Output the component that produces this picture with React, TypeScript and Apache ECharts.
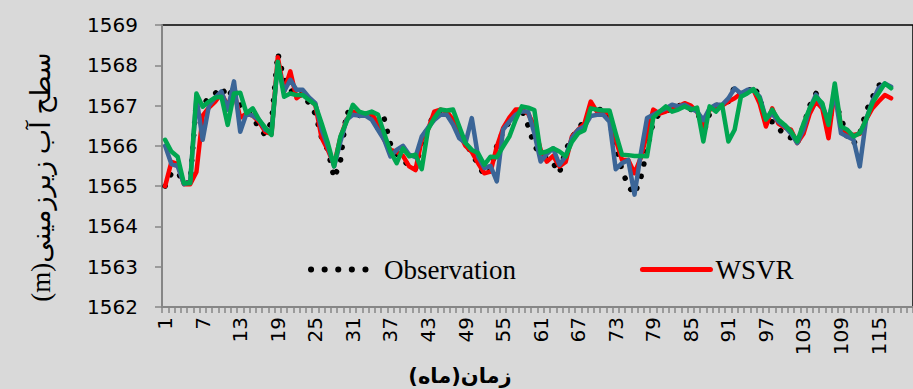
import React, { useEffect, useRef } from 'react';
import * as echarts from 'echarts';

const months: string[] = Array.from({ length: 120 }, (_, i) => String(i + 1));

const observation = [
  1565.0, 1565.32, 1565.36, 1565.05, 1565.1, 1567.15, 1567.0, 1567.2, 1567.3, 1567.45,
  1567.2, 1567.45, 1567.0, 1566.85, 1566.75, 1566.42, 1566.28, 1566.6, 1568.3, 1567.65,
  1567.4, 1567.2, 1567.3, 1567.05, 1566.8, 1566.2, 1565.9, 1565.2, 1565.6, 1566.85,
  1566.75, 1566.75, 1566.8, 1566.7, 1566.44, 1566.68, 1566.05, 1565.8, 1565.65, 1565.5,
  1565.42, 1566.1, 1566.45, 1566.8, 1566.85, 1566.8, 1566.6, 1566.45, 1566.1, 1565.8,
  1565.55, 1565.26, 1565.4, 1566.0, 1566.35, 1566.6, 1566.85, 1566.9, 1566.5, 1566.0,
  1565.8, 1565.7, 1565.57, 1565.32, 1565.9, 1566.2, 1566.45, 1566.6, 1566.8, 1566.9,
  1566.9, 1566.6, 1566.0, 1565.4, 1565.0, 1564.8, 1565.2, 1565.9, 1566.6, 1566.8,
  1566.85, 1566.95, 1567.0, 1567.0, 1566.9, 1566.9, 1566.3, 1566.8, 1567.0, 1567.05,
  1567.1, 1567.47, 1567.25, 1567.3, 1567.5, 1567.2, 1566.6, 1566.6, 1566.45, 1566.25,
  1566.2, 1566.05, 1566.5, 1567.0, 1567.3, 1567.0, 1566.6, 1567.1, 1566.7, 1566.2,
  1566.05, 1566.3, 1566.85, 1567.2, 1567.5, 1567.55, 1567.5,
];

const wsvr = [
  1565.0, 1565.6, 1565.55, 1565.05, 1565.05, 1565.35, 1566.75, 1566.95, 1567.1, 1567.3,
  1567.0, 1567.35, 1566.7, 1566.8, 1566.75, 1566.6, 1566.35, 1566.3, 1568.2, 1567.35,
  1567.85, 1567.18, 1567.3, 1567.15, 1567.02, 1566.2, 1565.9, 1565.53, 1566.2, 1566.65,
  1566.85, 1566.8, 1566.8, 1566.8, 1566.55, 1566.15, 1565.9, 1565.85, 1565.75, 1565.49,
  1565.4, 1566.15, 1566.4, 1566.85, 1566.9, 1566.85, 1566.65, 1566.3, 1566.0, 1565.85,
  1565.57, 1565.32, 1565.36, 1565.98, 1566.44, 1566.7, 1566.9, 1566.9, 1566.8, 1566.5,
  1565.9, 1565.61, 1565.75, 1565.49, 1565.6, 1566.23, 1566.4, 1566.55, 1567.1, 1566.85,
  1566.85, 1566.8, 1566.15, 1565.65, 1565.65, 1565.32, 1565.7, 1566.3, 1566.9, 1566.8,
  1566.85, 1566.93, 1566.98, 1567.06, 1567.0, 1566.85, 1566.48, 1566.9, 1566.95, 1567.0,
  1567.1, 1567.18, 1567.3, 1567.35, 1567.39, 1567.05, 1566.48, 1566.93, 1566.55, 1566.45,
  1566.4, 1566.07, 1566.3, 1566.8, 1567.1, 1566.93, 1566.19, 1567.39, 1566.48, 1566.3,
  1566.27, 1566.3, 1566.65, 1566.93, 1567.1, 1567.26, 1567.18,
];

const modelBlue = [
  1566.0, 1565.55, 1565.5, 1565.05, 1565.1, 1567.2, 1566.15, 1567.0, 1567.2, 1567.35,
  1566.9, 1567.6, 1566.35, 1566.8, 1566.75, 1566.65, 1566.4, 1566.35, 1568.05, 1567.35,
  1567.64, 1567.39, 1567.39, 1567.2, 1567.06, 1566.4, 1565.98, 1565.49, 1566.1, 1566.65,
  1566.77, 1566.75, 1566.75, 1566.65, 1566.4, 1566.15, 1565.74, 1565.9, 1566.0, 1565.78,
  1565.72, 1566.23, 1566.45, 1566.64, 1566.77, 1566.77, 1566.53, 1566.19, 1566.07, 1566.69,
  1565.74, 1565.45, 1565.5, 1565.12, 1566.4, 1566.6, 1566.77, 1566.85, 1566.85, 1566.31,
  1565.61, 1565.8, 1565.94, 1565.53, 1565.74, 1566.19, 1566.4, 1566.48, 1566.74, 1566.77,
  1566.77, 1566.6, 1565.42, 1565.57, 1565.65, 1564.79, 1565.8, 1566.69, 1566.77, 1566.85,
  1566.93, 1567.02, 1566.98, 1567.02, 1566.93, 1566.85, 1566.64, 1566.93, 1567.02, 1567.02,
  1567.18, 1567.43, 1567.3, 1567.39, 1567.39, 1567.22, 1566.68, 1566.8, 1566.6, 1566.48,
  1566.31, 1566.07, 1566.4, 1566.93, 1567.27, 1566.98, 1566.64, 1567.31, 1566.31, 1566.23,
  1566.15, 1565.49, 1566.65, 1567.1, 1567.43, 1567.55, 1567.47,
];

const modelGreen = [
  1566.15, 1565.86, 1565.73, 1565.07, 1565.07, 1567.3, 1566.97, 1567.1, 1567.2, 1567.22,
  1566.52, 1567.3, 1567.32, 1566.81, 1566.93, 1566.65, 1566.45, 1566.27, 1568.09, 1567.22,
  1567.3, 1567.26, 1567.26, 1567.14, 1567.02, 1566.56, 1566.07, 1565.49, 1566.23, 1566.6,
  1567.02, 1566.85, 1566.8, 1566.85, 1566.78, 1566.31, 1565.86, 1565.57, 1565.94, 1565.74,
  1565.78, 1565.42, 1566.4, 1566.69, 1566.9, 1566.88, 1566.9, 1566.48, 1566.07, 1565.9,
  1565.82, 1565.53, 1565.73, 1565.72, 1565.98, 1566.23, 1566.64, 1566.98, 1566.95, 1566.89,
  1565.82, 1565.86, 1565.94, 1565.86, 1565.74, 1566.1, 1566.31, 1566.39, 1566.93, 1566.9,
  1566.88, 1566.88, 1566.31, 1565.78, 1565.77, 1565.75, 1565.75, 1565.74, 1566.7, 1566.85,
  1566.98, 1566.85, 1566.9, 1566.98, 1566.9, 1566.95, 1566.11, 1566.98, 1566.85, 1567.02,
  1566.11, 1566.4, 1567.22, 1567.3, 1567.41, 1567.18, 1566.65, 1566.9, 1566.65, 1566.52,
  1566.36, 1566.11, 1566.55, 1566.93, 1567.22, 1567.06, 1566.52, 1567.55, 1566.48, 1566.4,
  1566.23, 1566.32, 1566.65, 1567.06, 1567.31, 1567.55, 1567.43,
];

const yAxisTitle = 'سطح آب زیرزمینی(m)';
const xAxisTitle = 'زمان(ماه)';

// right-to-left embedding so the Persian titles lay out as in the original
const rtl = (s: string) => '\u202B' + s + '\u202C';

const sansFont = '"DejaVu Sans", sans-serif';
const serifFont = '"Liberation Serif", "Times New Roman", serif';

const obsLine = { color: '#000', width: 5.5, type: [0.1, 12.5], cap: 'round', join: 'round' };
const wsvrLine = { color: '#ff0000', width: 4.5, cap: 'round', join: 'round' };

export default function App() {
  const ref = useRef<HTMLDivElement>(null);

  useEffect(() => {
    document.body.style.margin = '0';
    const chart = echarts.init(ref.current as HTMLDivElement, null, { renderer: 'svg' });
    chart.setOption({
      animation: false,
      backgroundColor: '#d9d9d9',
      grid: {
        left: 162,
        top: 25,
        right: -23,
        bottom: 82,
        show: true,
        borderColor: '#000',
        borderWidth: 1.5,
        backgroundColor: 'transparent',
      },
      legend: {
        data: [
          {
            name: 'Observation',
            itemStyle: { opacity: 0 },
            lineStyle: { color: '#000', width: 6, type: [0.1, 13.5], cap: 'round' },
          },
          {
            name: 'WSVR',
            itemStyle: { opacity: 0 },
            lineStyle: { color: '#ff0000', width: 5, cap: 'round' },
          },
        ],
        left: 303,
        top: 251,
        itemWidth: 68,
        itemHeight: 14,
        itemGap: 124,
        textStyle: {
          fontFamily: serifFont,
          fontSize: 27,
          color: '#000',
        },
      },
      xAxis: {
        type: 'category',
        data: months,
        boundaryGap: true,
        axisLine: { lineStyle: { color: '#868686', width: 2 } },
        axisTick: { show: true, interval: 0, length: 6, lineStyle: { color: '#868686', width: 1.5 } },
        axisLabel: {
          interval: 5,
          rotate: 90,
          margin: 10,
          fontFamily: sansFont,
          fontSize: 20,
          color: '#000',
        },
        splitLine: { show: false },
      },
      yAxis: {
        type: 'value',
        min: 1562,
        max: 1569,
        interval: 1,
        axisLine: { show: true, lineStyle: { color: '#868686', width: 2 } },
        axisTick: { show: true, length: 7, lineStyle: { color: '#868686', width: 1.5 } },
        axisLabel: {
          margin: 24,
          fontFamily: sansFont,
          fontSize: 20,
          color: '#000',
          formatter: (v: number) => String(v),
        },
        splitLine: { show: false },
      },
      graphic: [
        {
          type: 'text',
          x: 41,
          y: 177,
          rotation: Math.PI / 2,
          style: {
            text: rtl(yAxisTitle),
            font: `27px ${serifFont}, "DejaVu Sans"`,
            fill: '#000',
            align: 'center',
            verticalAlign: 'middle',
          },
        },
        {
          type: 'text',
          x: 460,
          y: 376,
          style: {
            text: rtl(xAxisTitle),
            font: `bold 21px "DejaVu Sans", sans-serif`,
            fill: '#000',
            align: 'center',
            verticalAlign: 'middle',
          },
        },
      ],
      series: [
        {
          name: 'Observation',
          type: 'line',
          data: observation,
          symbol: 'none',
          lineStyle: obsLine,
          itemStyle: { color: '#000' },
        },
        {
          name: 'WSVR',
          type: 'line',
          data: wsvr,
          symbol: 'none',
          lineStyle: wsvrLine,
          itemStyle: { color: '#ff0000' },
        },
        {
          name: 'SVR',
          type: 'line',
          data: modelBlue,
          symbol: 'none',
          lineStyle: { color: '#3b6597', width: 4.5, cap: 'round', join: 'round' },
          itemStyle: { color: '#3b6597' },
        },
        {
          name: 'WANN',
          type: 'line',
          data: modelGreen,
          symbol: 'none',
          lineStyle: { color: '#00a650', width: 4.5, cap: 'round', join: 'round' },
          itemStyle: { color: '#00a650' },
        },
      ],
    });
    return () => chart.dispose();
  }, []);

  return (
    <div
      ref={ref}
      style={{ position: 'fixed', left: 0, top: 0, width: 913, height: 389 }}
    />
  );
}
